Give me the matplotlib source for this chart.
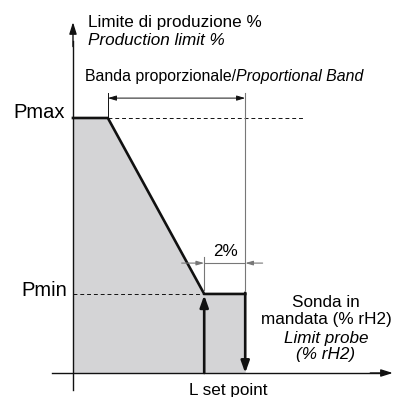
import matplotlib.pyplot as plt

plt.rcParams['font.family'] = ['Liberation Sans', 'DejaVu Sans']

# Production limit (%) against the limit probe reading (% rH2)
p_max = 100
p_min = 31
band_start = 1.7          # start of the proportional band
set_point = 6.4           # L set point
hysteresis = 2            # 2% differential above the set point
band_end = set_point + hysteresis

profile_x = [0, band_start, set_point, band_end]
profile_y = [p_max, p_max, p_min, p_min]

fig = plt.figure(figsize=(4.08, 3.97), dpi=100)
ax = fig.add_axes([0, 0, 1, 1])
ax.set_xlim(-3.56, 16.34)
ax.set_ylim(-9.41, 146.27)
ax.axis('off')

black = '#111111'
grey = '#777777'

# shaded region under the limit curve
ax.fill_between(profile_x, profile_y, 0, color='#d4d4d6', lw=0)
ax.plot(profile_x, profile_y, color=black, lw=1.9, solid_joinstyle='miter')

# reference dashes for Pmax and Pmin
ax.plot([band_start, 11.2], [p_max, p_max], color=black, lw=0.7, ls=(0, (4, 3)))
ax.plot([0, set_point], [p_min, p_min], color=black, lw=0.7, ls=(0, (4, 3)))

# axes with arrow heads
head = '-|>,head_length=0.7,head_width=0.22'
ax.plot([0, 0], [-6.7, 130], color=black, lw=1.0)
ax.annotate('', xy=(0, 137.6), xytext=(0, 128),
            arrowprops=dict(arrowstyle=head, color=black, lw=1.0, shrinkA=0, shrinkB=0))
ax.plot([-1.0, 15], [0, 0], color=black, lw=1.0)
ax.annotate('', xy=(15.6, 0), xytext=(14.5, 0),
            arrowprops=dict(arrowstyle=head, color=black, lw=1.0, shrinkA=0, shrinkB=0))

# switching arrows at the set point
arrow_kw = dict(arrowstyle='-|>,head_length=0.7,head_width=0.25', color=black,
                lw=1.9, shrinkA=0, shrinkB=0)
ax.annotate('', xy=(set_point, p_min - 0.5), xytext=(set_point, 0), arrowprops=arrow_kw)
ax.annotate('', xy=(band_end, 0), xytext=(band_end, p_min + 0.5), arrowprops=arrow_kw)

# proportional band dimension
ax.plot([band_start, band_start], [p_max, 109.8], color=black, lw=0.7)
ax.plot([band_end, band_end], [32.5, 109.8], color=grey, lw=0.8)
ax.annotate('', xy=(band_start, 107.8), xytext=(band_end, 107.8),
            arrowprops=dict(arrowstyle='<|-|>,head_length=0.5,head_width=0.15', color=black,
                            lw=0.7, shrinkA=0, shrinkB=0))

# 2% differential dimension
ax.plot([set_point, set_point], [32.5, 45.5], color=grey, lw=0.8)
ax.plot([set_point, band_end], [43.1, 43.1], color=grey, lw=0.8)
small_kw = dict(arrowstyle='-|>,head_length=0.45,head_width=0.13', color=grey,
                lw=0.8, shrinkA=0, shrinkB=0)
ax.annotate('', xy=(set_point, 43.1), xytext=(5.3, 43.1), arrowprops=small_kw)
ax.annotate('', xy=(band_end, 43.1), xytext=(9.25, 43.1), arrowprops=small_kw)

# labels
fs = 12.3
ax.text(0.73, 137.3, 'Limite di produzione %', fontsize=fs, va='center')
ax.text(0.73, 130.2, 'Production limit %', fontsize=fs, style='italic', va='center')
band_lbl = ax.text(0.58, 116.1, 'Banda proporzionale/', fontsize=11.4, va='center')
ax.annotate('Proportional Band', xy=(1, 0.5), xycoords=band_lbl, fontsize=11.4,
            style='italic', va='center')
ax.text(-1.65, 102, 'Pmax', fontsize=14.5, ha='center', va='center')
ax.text(-1.42, 32.5, 'Pmin', fontsize=14.5, ha='center', va='center')
ax.text(7.46, 47.5, '2%', fontsize=fs, ha='center', va='center')
ax.text(12.34, 27.8, 'Sonda in', fontsize=fs, ha='center', va='center')
ax.text(12.34, 20.8, 'mandata (% rH2)', fontsize=fs, ha='center', va='center')
ax.text(12.34, 13.7, 'Limit probe', fontsize=fs, style='italic', ha='center', va='center')
ax.text(12.34, 7.1, '(% rH2)', fontsize=fs, style='italic', ha='center', va='center')
ax.text(7.56, -6.7, 'L set point', fontsize=fs, ha='center', va='center')

fig.savefig('out.png', dpi=100)
